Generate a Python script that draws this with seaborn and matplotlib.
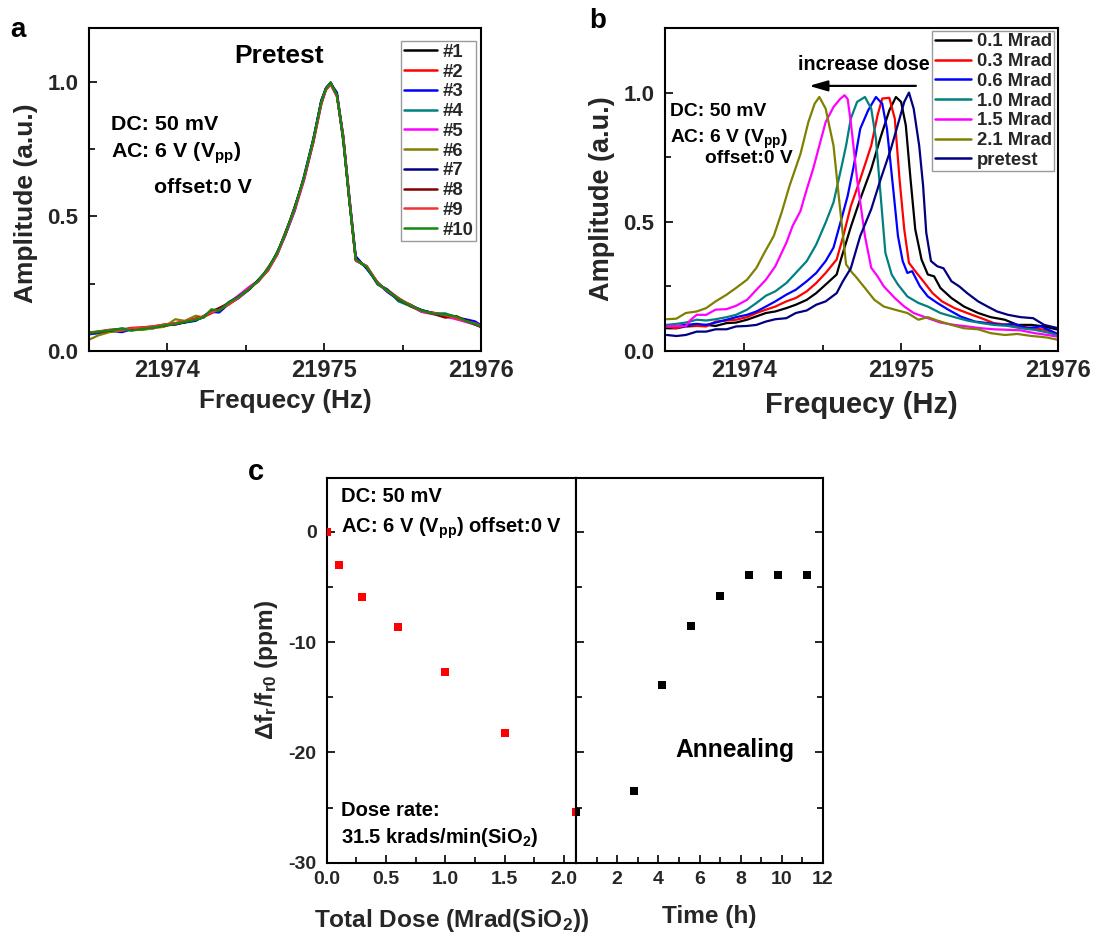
import matplotlib
matplotlib.use("Agg")
import matplotlib.pyplot as plt
from matplotlib.ticker import FixedLocator
import seaborn as sns

# ---------------- data: panel a (pretest, 10 repeats) ----------------
freq_a = [21973.50, 21973.56, 21973.63, 21973.71, 21973.77, 21973.84, 21973.91, 21973.98,
          21974.05, 21974.11, 21974.18, 21974.23, 21974.28, 21974.33, 21974.39, 21974.45,
          21974.52, 21974.58, 21974.64, 21974.70, 21974.75, 21974.81, 21974.87, 21974.93,
          21974.98, 21975.01, 21975.04, 21975.08, 21975.12, 21975.16, 21975.20, 21975.27,
          21975.34, 21975.40, 21975.47, 21975.55, 21975.62, 21975.70, 21975.77, 21975.84,
          21975.90, 21975.96, 21976.00]
amp_a1 = [0.064, 0.070, 0.078, 0.080, 0.082, 0.085, 0.090, 0.094, 0.102, 0.106, 0.118, 0.128, 0.148, 0.152, 0.176, 0.203, 0.228, 0.265, 0.300, 0.368, 0.430, 0.535, 0.640, 0.780, 0.930, 0.972, 0.993, 0.955, 0.780, 0.560, 0.345, 0.308, 0.255, 0.222, 0.190, 0.172, 0.146, 0.140, 0.132, 0.125, 0.115, 0.098, 0.092]
amp_a2 = [0.070, 0.068, 0.074, 0.078, 0.086, 0.088, 0.092, 0.098, 0.104, 0.110, 0.116, 0.126, 0.140, 0.158, 0.172, 0.198, 0.235, 0.258, 0.310, 0.360, 0.440, 0.522, 0.640, 0.775, 0.915, 0.970, 0.990, 0.945, 0.800, 0.560, 0.335, 0.315, 0.248, 0.228, 0.198, 0.165, 0.148, 0.142, 0.130, 0.122, 0.110, 0.104, 0.092]
amp_a3 = [0.062, 0.066, 0.075, 0.070, 0.080, 0.084, 0.085, 0.097, 0.098, 0.106, 0.112, 0.130, 0.145, 0.143, 0.175, 0.195, 0.228, 0.265, 0.302, 0.362, 0.428, 0.520, 0.650, 0.790, 0.930, 0.978, 0.995, 0.960, 0.800, 0.570, 0.352, 0.305, 0.252, 0.220, 0.192, 0.170, 0.152, 0.140, 0.128, 0.124, 0.118, 0.110, 0.095]
amp_a4 = [0.065, 0.069, 0.074, 0.082, 0.079, 0.083, 0.088, 0.093, 0.101, 0.109, 0.117, 0.124, 0.150, 0.148, 0.182, 0.202, 0.232, 0.260, 0.306, 0.366, 0.437, 0.528, 0.642, 0.788, 0.922, 0.974, 0.996, 0.950, 0.792, 0.552, 0.338, 0.310, 0.246, 0.230, 0.185, 0.166, 0.152, 0.140, 0.140, 0.126, 0.112, 0.102, 0.090]
amp_a5 = [0.068, 0.072, 0.072, 0.080, 0.078, 0.085, 0.084, 0.096, 0.103, 0.108, 0.118, 0.128, 0.146, 0.155, 0.178, 0.205, 0.238, 0.262, 0.298, 0.358, 0.430, 0.520, 0.632, 0.778, 0.918, 0.972, 0.994, 0.948, 0.795, 0.560, 0.340, 0.314, 0.254, 0.224, 0.196, 0.168, 0.145, 0.136, 0.128, 0.118, 0.108, 0.098, 0.088]
amp_a6 = [0.042, 0.058, 0.070, 0.076, 0.080, 0.078, 0.085, 0.090, 0.118, 0.112, 0.131, 0.124, 0.150, 0.152, 0.180, 0.198, 0.228, 0.264, 0.304, 0.364, 0.434, 0.530, 0.645, 0.785, 0.925, 0.975, 0.995, 0.950, 0.790, 0.555, 0.340, 0.312, 0.250, 0.225, 0.195, 0.168, 0.150, 0.138, 0.136, 0.128, 0.112, 0.100, 0.090]
amp_a7 = [0.066, 0.071, 0.077, 0.083, 0.080, 0.084, 0.088, 0.096, 0.101, 0.107, 0.114, 0.127, 0.152, 0.149, 0.179, 0.201, 0.231, 0.263, 0.303, 0.366, 0.433, 0.529, 0.644, 0.786, 0.926, 0.976, 0.998, 0.952, 0.791, 0.556, 0.342, 0.311, 0.251, 0.226, 0.194, 0.169, 0.151, 0.139, 0.135, 0.127, 0.113, 0.101, 0.091]
amp_a8 = [0.067, 0.070, 0.075, 0.081, 0.083, 0.086, 0.089, 0.094, 0.099, 0.107, 0.121, 0.128, 0.147, 0.160, 0.178, 0.199, 0.229, 0.261, 0.301, 0.363, 0.436, 0.531, 0.643, 0.784, 0.924, 0.974, 0.996, 0.951, 0.789, 0.554, 0.341, 0.313, 0.249, 0.227, 0.192, 0.167, 0.149, 0.137, 0.124, 0.130, 0.114, 0.099, 0.089]
amp_a9 = [0.069, 0.073, 0.079, 0.079, 0.084, 0.087, 0.091, 0.099, 0.103, 0.111, 0.119, 0.129, 0.143, 0.153, 0.173, 0.196, 0.233, 0.259, 0.299, 0.359, 0.431, 0.525, 0.638, 0.780, 0.920, 0.973, 0.992, 0.947, 0.797, 0.562, 0.337, 0.316, 0.253, 0.223, 0.197, 0.171, 0.147, 0.141, 0.133, 0.121, 0.111, 0.103, 0.093]
amp_a10 = [0.066, 0.072, 0.076, 0.084, 0.075, 0.082, 0.087, 0.095, 0.100, 0.108, 0.115, 0.125, 0.155, 0.150, 0.180, 0.200, 0.230, 0.262, 0.305, 0.365, 0.435, 0.530, 0.645, 0.785, 0.925, 0.975, 0.997, 0.950, 0.790, 0.555, 0.340, 0.312, 0.250, 0.225, 0.195, 0.168, 0.150, 0.138, 0.136, 0.128, 0.112, 0.100, 0.090]
labels_a = ["#1", "#2", "#3", "#4", "#5", "#6", "#7", "#8", "#9", "#10"]
colors_a = ["#000000", "#FF0000", "#0000FF", "#008080", "#FF00FF", "#808000",
            "#000080", "#800000", "#F03434", "#0F8A0F"]
amps_a = [amp_a1, amp_a2, amp_a3, amp_a4, amp_a5, amp_a6, amp_a7, amp_a8, amp_a9, amp_a10]

# ---------------- data: panel b (after each dose) ----------------
f_01 = [21973.51, 21973.57, 21973.63, 21973.70, 21973.76, 21973.82, 21973.89, 21973.95, 21974.02, 21974.08, 21974.14, 21974.20, 21974.27, 21974.33, 21974.40, 21974.46, 21974.52, 21974.59, 21974.62, 21974.68, 21974.74, 21974.81, 21974.87, 21974.925, 21974.967, 21975.00, 21975.03, 21975.06, 21975.09, 21975.13, 21975.17, 21975.21, 21975.25, 21975.32, 21975.40, 21975.49, 21975.57, 21975.66, 21975.74, 21975.83, 21975.91, 21976.00]
a_01 = [0.088, 0.088, 0.095, 0.097, 0.101, 0.097, 0.108, 0.110, 0.121, 0.134, 0.147, 0.153, 0.166, 0.179, 0.198, 0.224, 0.257, 0.296, 0.360, 0.480, 0.588, 0.704, 0.828, 0.931, 0.983, 0.964, 0.873, 0.665, 0.471, 0.354, 0.296, 0.289, 0.244, 0.205, 0.172, 0.147, 0.131, 0.121, 0.101, 0.101, 0.095, 0.082]
f_03 = [21973.51, 21973.57, 21973.63, 21973.70, 21973.76, 21973.82, 21973.89, 21973.95, 21974.02, 21974.08, 21974.14, 21974.20, 21974.27, 21974.33, 21974.40, 21974.46, 21974.52, 21974.59, 21974.63, 21974.68, 21974.74, 21974.81, 21974.85, 21974.88, 21974.925, 21974.96, 21974.99, 21975.02, 21975.05, 21975.09, 21975.15, 21975.20, 21975.26, 21975.34, 21975.42, 21975.51, 21975.59, 21975.68, 21975.76, 21975.85, 21975.93, 21976.00]
a_03 = [0.095, 0.088, 0.101, 0.097, 0.095, 0.114, 0.118, 0.121, 0.131, 0.147, 0.160, 0.172, 0.192, 0.205, 0.231, 0.263, 0.302, 0.354, 0.440, 0.560, 0.665, 0.795, 0.912, 0.977, 0.980, 0.899, 0.665, 0.471, 0.341, 0.309, 0.263, 0.224, 0.192, 0.166, 0.147, 0.127, 0.108, 0.101, 0.095, 0.088, 0.080, 0.062]
f_06 = [21973.51, 21973.57, 21973.63, 21973.70, 21973.76, 21973.82, 21973.89, 21973.95, 21974.02, 21974.08, 21974.14, 21974.20, 21974.27, 21974.33, 21974.40, 21974.46, 21974.52, 21974.57, 21974.62, 21974.66, 21974.70, 21974.74, 21974.79, 21974.84, 21974.88, 21974.91, 21974.95, 21974.98, 21975.01, 21975.04, 21975.07, 21975.12, 21975.17, 21975.23, 21975.30, 21975.38, 21975.47, 21975.55, 21975.64, 21975.72, 21975.80, 21975.89, 21976.00]
a_06 = [0.101, 0.097, 0.101, 0.105, 0.101, 0.110, 0.121, 0.131, 0.140, 0.153, 0.172, 0.192, 0.218, 0.237, 0.270, 0.302, 0.348, 0.400, 0.510, 0.600, 0.720, 0.860, 0.931, 0.983, 0.957, 0.860, 0.626, 0.445, 0.348, 0.302, 0.309, 0.250, 0.211, 0.186, 0.160, 0.133, 0.114, 0.108, 0.101, 0.105, 0.088, 0.095, 0.065]
f_10 = [21973.51, 21973.57, 21973.63, 21973.70, 21973.76, 21973.82, 21973.89, 21973.95, 21974.02, 21974.08, 21974.14, 21974.20, 21974.27, 21974.33, 21974.40, 21974.46, 21974.52, 21974.57, 21974.62, 21974.65, 21974.68, 21974.72, 21974.77, 21974.81, 21974.84, 21974.87, 21974.90, 21974.94, 21974.98, 21975.04, 21975.11, 21975.17, 21975.25, 21975.34, 21975.42, 21975.51, 21975.59, 21975.68, 21975.76, 21975.85, 21975.93, 21976.00]
a_10 = [0.101, 0.105, 0.110, 0.121, 0.118, 0.123, 0.131, 0.140, 0.160, 0.186, 0.214, 0.231, 0.263, 0.302, 0.348, 0.412, 0.497, 0.575, 0.710, 0.795, 0.899, 0.964, 0.983, 0.938, 0.821, 0.600, 0.380, 0.296, 0.257, 0.211, 0.186, 0.172, 0.147, 0.131, 0.118, 0.108, 0.101, 0.097, 0.088, 0.082, 0.072, 0.060]
f_15 = [21973.51, 21973.57, 21973.63, 21973.66, 21973.70, 21973.76, 21973.82, 21973.89, 21973.95, 21974.02, 21974.08, 21974.14, 21974.20, 21974.27, 21974.31, 21974.36, 21974.40, 21974.44, 21974.48, 21974.52, 21974.57, 21974.61, 21974.64, 21974.66, 21974.68, 21974.72, 21974.77, 21974.81, 21974.85, 21974.89, 21974.96, 21975.02, 21975.08, 21975.17, 21975.25, 21975.34, 21975.42, 21975.51, 21975.59, 21975.68, 21975.76, 21975.85, 21975.93, 21976.00]
a_15 = [0.095, 0.097, 0.095, 0.120, 0.140, 0.140, 0.160, 0.162, 0.175, 0.198, 0.237, 0.276, 0.328, 0.419, 0.484, 0.542, 0.626, 0.704, 0.795, 0.886, 0.944, 0.974, 0.990, 0.975, 0.886, 0.665, 0.445, 0.322, 0.289, 0.250, 0.205, 0.172, 0.147, 0.127, 0.110, 0.101, 0.095, 0.088, 0.084, 0.082, 0.080, 0.069, 0.062, 0.055]
f_21 = [21973.51, 21973.57, 21973.63, 21973.70, 21973.76, 21973.82, 21973.89, 21973.95, 21974.02, 21974.08, 21974.13, 21974.19, 21974.24, 21974.29, 21974.36, 21974.41, 21974.45, 21974.48, 21974.52, 21974.57, 21974.61, 21974.65, 21974.69, 21974.71, 21974.77, 21974.83, 21974.89, 21974.96, 21975.04, 21975.11, 21975.17, 21975.23, 21975.32, 21975.40, 21975.49, 21975.57, 21975.66, 21975.74, 21975.83, 21975.87, 21975.93, 21976.00]
a_21 = [0.123, 0.125, 0.147, 0.153, 0.166, 0.192, 0.218, 0.244, 0.276, 0.322, 0.380, 0.445, 0.536, 0.639, 0.763, 0.886, 0.957, 0.983, 0.938, 0.795, 0.561, 0.335, 0.302, 0.289, 0.244, 0.198, 0.172, 0.160, 0.147, 0.121, 0.131, 0.118, 0.101, 0.088, 0.084, 0.069, 0.062, 0.066, 0.058, 0.056, 0.052, 0.043]
f_pre = [21973.51, 21973.57, 21973.63, 21973.70, 21973.76, 21973.82, 21973.89, 21973.95, 21974.02, 21974.08, 21974.14, 21974.20, 21974.27, 21974.33, 21974.40, 21974.46, 21974.52, 21974.59, 21974.63, 21974.68, 21974.74, 21974.81, 21974.87, 21974.935, 21974.99, 21975.02, 21975.05, 21975.08, 21975.115, 21975.14, 21975.16, 21975.19, 21975.23, 21975.27, 21975.32, 21975.37, 21975.42, 21975.49, 21975.55, 21975.61, 21975.68, 21975.76, 21975.84, 21975.91, 21976.00]
a_pre = [0.062, 0.058, 0.062, 0.075, 0.075, 0.084, 0.084, 0.095, 0.097, 0.101, 0.114, 0.123, 0.127, 0.147, 0.157, 0.179, 0.192, 0.224, 0.270, 0.320, 0.445, 0.549, 0.665, 0.782, 0.899, 0.964, 1.000, 0.938, 0.795, 0.639, 0.458, 0.348, 0.328, 0.320, 0.270, 0.250, 0.224, 0.192, 0.172, 0.153, 0.140, 0.131, 0.127, 0.101, 0.088]
labels_b = ["0.1 Mrad", "0.3 Mrad", "0.6 Mrad", "1.0 Mrad", "1.5 Mrad", "2.1 Mrad", "pretest"]
colors_b = ["#000000", "#FF0000", "#0000FF", "#008080", "#FF00FF", "#808000", "#000080"]
freqs_b = [f_01, f_03, f_06, f_10, f_15, f_21, f_pre]
amps_b = [a_01, a_03, a_06, a_10, a_15, a_21, a_pre]

# ---------------- data: panel c ----------------
dose = [0.0, 0.1, 0.3, 0.6, 1.0, 1.5, 2.1]
shift_dose = [0.0, -3.0, -5.9, -8.6, -12.7, -18.2, -25.4]
anneal_time = [0.0, 2.8, 4.2, 5.6, 7.0, 8.4, 9.8, 11.2]
shift_anneal = [-25.4, -23.5, -13.9, -8.5, -5.85, -3.9, -3.9, -3.9]

# ---------------- style ----------------
sns.set_style("ticks")
plt.rcParams["font.family"] = ["Liberation Sans", "DejaVu Sans"]
plt.rcParams["font.weight"] = "bold"
plt.rcParams["axes.labelweight"] = "bold"
plt.rcParams["axes.unicode_minus"] = False
plt.rcParams["mathtext.fontset"] = "custom"
plt.rcParams["mathtext.rm"] = "Liberation Sans:bold"
plt.rcParams["mathtext.it"] = "Liberation Sans:bold"
plt.rcParams["mathtext.bf"] = "Liberation Sans:bold"
plt.rcParams["mathtext.sf"] = "Liberation Sans:bold"

W, H = 1096, 938
fig = plt.figure(figsize=(W / 100, H / 100), dpi=100)
fig.patch.set_facecolor("white")


def px_axes(x0, y0, x1, y1):
    return fig.add_axes([x0 / W, 1 - y1 / H, (x1 - x0) / W, (y1 - y0) / H])


def ftext(x, y, s, **kw):
    fig.text(x / W, 1 - y / H, s, **kw)


def style_axes(ax):
    for sp in ax.spines.values():
        sp.set_visible(True)
        sp.set_linewidth(1.5)
        sp.set_color("black")
    ax.set_facecolor("white")
    ax.grid(False)


ax_a = px_axes(89, 28, 481.3, 351)
ax_b = px_axes(665.3, 28, 1058.3, 351)
ax_cl = px_axes(326.7, 478.3, 576, 862.7)
ax_cr = px_axes(576, 478.3, 823, 862.7)

# ---------------- panel a ----------------
for lab, col, amp in zip(labels_a, colors_a, amps_a):
    sns.lineplot(x=freq_a, y=amp, ax=ax_a, color=col, lw=1.6, label=lab,
                 estimator=None, sort=False, errorbar=None)
# ---------------- panel b ----------------
for lab, col, fr, amp in zip(labels_b, colors_b, freqs_b, amps_b):
    sns.lineplot(x=fr, y=amp, ax=ax_b, color=col, lw=1.6, label=lab,
                 estimator=None, sort=False, errorbar=None)

for ax, ylim, xfs, xlabfs, ylabfs in [(ax_a, (0, 1.2), 17, 18.8, 19), (ax_b, (0, 1.25), 17, 21, 19.5)]:
    style_axes(ax)
    ax.set_xlim(21973.5, 21976.0)
    ax.set_ylim(*ylim)
    ax.set_xticks([21974, 21975, 21976], labels=["21974", "21975", "21976"])
    ax.xaxis.set_minor_locator(FixedLocator([21973.5, 21974.5, 21975.5]))
    ax.set_yticks([0.0, 0.5, 1.0], labels=["0.0", "0.5", "1.0"])
    ax.yaxis.set_minor_locator(FixedLocator([0.25, 0.75]))
    ax.tick_params(which="both", direction="in", top=False, right=False, width=1.2, color="black")
    ax.tick_params(which="major", length=6)
    ax.tick_params(which="minor", length=4.5)
    ax.tick_params(axis="x", which="major", labelsize=xfs, pad=5.4)
    ax.tick_params(axis="y", which="major", labelsize=16, pad=7.7)
    ax.set_xlabel("Frequecy (Hz)", fontsize=xlabfs, fontweight="bold")
    ax.set_ylabel("Amplitude (a.u.)", fontsize=ylabfs, fontweight="bold")
    ax.xaxis.label.set_verticalalignment("baseline")
    ax.yaxis.label.set_verticalalignment("center")

ax_a.xaxis.set_label_coords(0.5, -0.1765)
ax_a.yaxis.set_label_coords(-0.1606, 0.458)
ax_b.xaxis.set_label_coords(0.499, -0.193)
ax_b.yaxis.set_label_coords(-0.162, 0.471)

leg_a = ax_a.legend(loc="upper right", bbox_to_anchor=(0.9865, 0.9598), borderaxespad=0,
                    frameon=True, fancybox=False, edgecolor="#9a9a9a", framealpha=1,
                    prop={"size": 13.3, "weight": "bold"}, labelspacing=0.15,
                    handlelength=1.8, handletextpad=0.27, borderpad=0.15)
leg_a.get_frame().set_linewidth(1.0)
leg_b = ax_b.legend(loc="upper right", bbox_to_anchor=(0.9898, 0.9907), borderaxespad=0,
                    frameon=True, fancybox=False, edgecolor="#9a9a9a", framealpha=1,
                    prop={"size": 13.3, "weight": "bold"}, labelspacing=0.15,
                    handlelength=1.95, handletextpad=0.33, borderpad=0.12)
leg_b.get_frame().set_linewidth(1.0)
for leg in (leg_a, leg_b):
    for ln in leg.get_lines():
        ln.set_linewidth(1.8)

# arrow in panel b
ax_b.annotate("", xy=(21974.415, 1.026), xytext=(21975.094, 1.026),
              arrowprops=dict(arrowstyle="-|>,head_length=0.55,head_width=0.16",
                              mutation_scale=20, lw=1.6, color="black",
                              shrinkA=0, shrinkB=0))

# ---------------- panel c ----------------
sns.scatterplot(x=dose, y=shift_dose, ax=ax_cl, marker="s", s=28, color="#FF0000",
                linewidth=0, legend=False, zorder=3)
sns.scatterplot(x=anneal_time, y=shift_anneal, ax=ax_cr, marker="s", s=28, color="#000000",
                linewidth=0, legend=False, zorder=3)

for ax in (ax_cl, ax_cr):
    style_axes(ax)
    ax.set_ylim(-30, 4.85)
    ax.set_yticks([-30, -20, -10, 0], labels=["-30", "-20", "-10", "0"])
    ax.yaxis.set_minor_locator(FixedLocator([-25, -15, -5]))
    ax.tick_params(which="both", direction="in", top=False, width=1.2, color="black")
    ax.tick_params(which="major", length=6)
    ax.tick_params(which="minor", length=4.5)
    ax.tick_params(axis="x", which="major", labelsize=14, pad=6.2)
    ax.tick_params(axis="y", which="major", labelsize=14, pad=7.2)

ax_cl.set_xlim(0, 2.1)
ax_cl.set_xticks([0.0, 0.5, 1.0, 1.5, 2.0], labels=["0.0", "0.5", "1.0", "1.5", "2.0"])
ax_cl.xaxis.set_minor_locator(FixedLocator([0.25, 0.75, 1.25, 1.75]))
ax_cl.tick_params(which="both", right=False)
ax_cl.set_xlabel("Total Dose (Mrad(SiO$_2$))", fontsize=17.6, fontweight="bold")
ax_cl.xaxis.label.set_verticalalignment("baseline")
ax_cl.xaxis.set_label_coords(0.5026, -0.1665)
ax_cl.set_ylabel("Δf$_r$/f$_{r0}$ (ppm)", fontsize=17.6, fontweight="bold")
ax_cl.yaxis.label.set_verticalalignment("center")
ax_cl.yaxis.set_label_coords(-0.2395, 0.501)

ax_cr.set_xlim(0, 12)
ax_cr.set_xticks([2, 4, 6, 8, 10, 12], labels=["2", "4", "6", "8", "10", "12"])
ax_cr.xaxis.set_minor_locator(FixedLocator([1, 3, 5, 7, 9, 11]))
ax_cr.tick_params(which="both", left=True, right=True, labelleft=False, labelright=False)
ax_cr.set_ylabel("")
ax_cr.set_xlabel("Time (h)", fontsize=17.6, fontweight="bold")
ax_cr.xaxis.label.set_verticalalignment("baseline")
ax_cr.xaxis.set_label_coords(0.538, -0.156)

# ---------------- annotations ----------------
bold = dict(fontweight="bold", color="black")
ftext(10, 36.7, "a", fontsize=20, ha="left", va="baseline", **bold)
ftext(589, 28.3, "b", fontsize=20, ha="left", va="baseline", **bold)
ftext(247.7, 480, "c", fontsize=21, ha="left", va="baseline", **bold)

ftext(279.5, 63.3, "Pretest", fontsize=19, ha="center", va="baseline", **bold)
ftext(110.7, 130, "DC: 50 mV", fontsize=15.4, ha="left", va="baseline", **bold)
ftext(110.7, 157.7, "AC: 6 V (V$_{pp}$)", fontsize=15.4, ha="left", va="baseline", **bold)
ftext(154, 193.3, "offset:0 V", fontsize=15.4, ha="left", va="baseline", **bold)

ftext(798.3, 70, "increase dose", fontsize=14.2, ha="left", va="baseline", **bold)
ftext(670, 116, "DC: 50 mV", fontsize=13.9, ha="left", va="baseline", **bold)
ftext(670, 142.7, "AC: 6 V (V$_{pp}$)", fontsize=13.9, ha="left", va="baseline", **bold)
ftext(705, 163.3, "offset:0 V", fontsize=13.9, ha="left", va="baseline", **bold)

ftext(340.7, 501.7, "DC: 50 mV", fontsize=14.5, ha="left", va="baseline", **bold)
ftext(340.7, 532.7, "AC: 6 V (V$_{pp}$) offset:0 V", fontsize=14.5, ha="left", va="baseline", **bold)
ftext(340.7, 816, "Dose rate:", fontsize=14.5, ha="left", va="baseline", **bold)
ftext(340.7, 842.7, "31.5 krads/min(SiO$_2$)", fontsize=14.5, ha="left", va="baseline", **bold)
ftext(675.7, 756.7, "Annealing", fontsize=17.7, ha="left", va="baseline", **bold)

fig.savefig("out.png", dpi=100, facecolor="white")
